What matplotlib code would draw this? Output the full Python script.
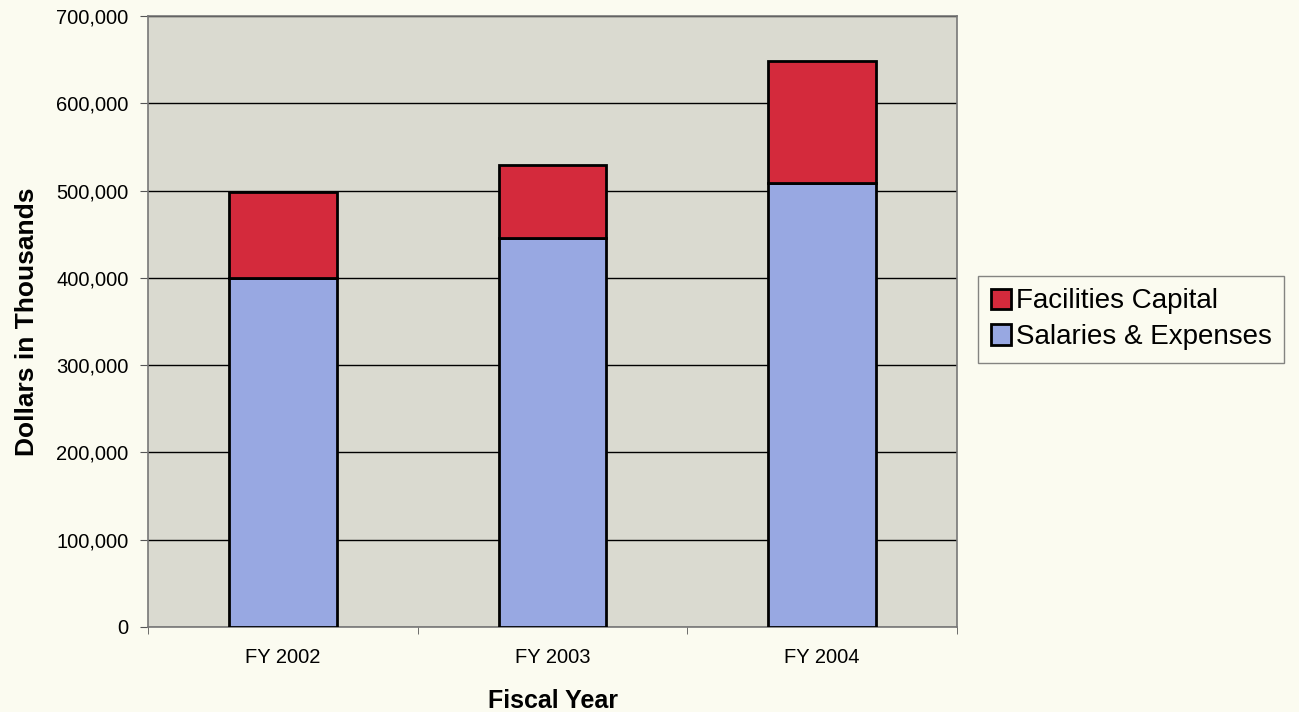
import matplotlib.pyplot as plt
import numpy as np
from matplotlib.ticker import FuncFormatter

plt.rcParams['font.family'] = ['Liberation Sans', 'DejaVu Sans']

YEARS = ['FY 2002', 'FY 2003', 'FY 2004']
SALARIES = [400000, 446000, 509000]
FACILITIES = [98000, 83000, 140000]

BG = '#fbfbf0'
PLOT_BG = '#dadad0'
RED = '#d42a3c'
BLUE = '#98a8e2'

fig = plt.figure(figsize=(12.99, 7.12), dpi=100, facecolor=BG)
ax = fig.add_axes([0.1139, 0.1194, 0.6229, 0.8581])
ax.set_facecolor(PLOT_BG)

index = np.arange(len(YEARS))
bar_width = 0.4

ax.bar(index, SALARIES, bar_width, color=BLUE, edgecolor='black', linewidth=2,
       label='Salaries & Expenses', zorder=3)
ax.bar(index, FACILITIES, bar_width, bottom=SALARIES, color=RED, edgecolor='black',
       linewidth=2, label='Facilities Capital', zorder=3)

ax.set_xlim(-0.5, 2.5)
ax.set_ylim(0, 700000)
ax.set_yticks(np.arange(0, 700001, 100000))
ax.yaxis.set_major_formatter(FuncFormatter(lambda v, p: '{:,.0f}'.format(v)))
ax.yaxis.grid(True, color='black', linewidth=1, zorder=0)

ax.set_xticks(index)
ax.set_xticklabels(YEARS)
ax.set_xticks([-0.5, 0.5, 1.5, 2.5], minor=True)
ax.tick_params(axis='x', which='major', length=0, pad=15, labelsize=14.5)
ax.tick_params(axis='x', which='minor', length=5, color='#555555')
ax.tick_params(axis='y', length=6, color='#555555', labelsize=14.5, pad=8)

for side in ['top', 'right', 'left', 'bottom']:
    ax.spines[side].set_color('#777777')
    ax.spines[side].set_linewidth(1.2)

ax.set_xlabel('Fiscal Year', fontsize=18, fontweight='bold', labelpad=16)
ax.set_ylabel('Dollars in Thousands', fontsize=19, fontweight='bold', labelpad=12)

handles, labels = ax.get_legend_handles_labels()
leg = fig.legend(handles[::-1], labels[::-1], loc='upper left',
                 bbox_to_anchor=(0.7529, 0.6124), fontsize=20, frameon=True,
                 fancybox=False, handlelength=0.75, handleheight=0.75,
                 handletextpad=0.15, borderpad=0.45, labelspacing=0.35,
                 borderaxespad=0)
leg.get_frame().set_edgecolor('#666666')
leg.get_frame().set_facecolor(BG)
leg.get_frame().set_linewidth(1)

fig.savefig('out.png', dpi=100, facecolor=BG)
